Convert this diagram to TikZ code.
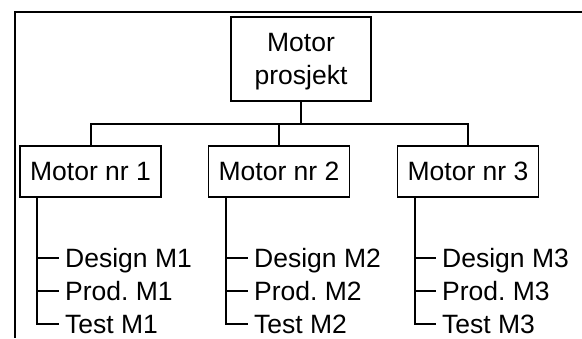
\documentclass[tikz,border=0pt]{standalone}
\usepackage{fontspec}
\setmainfont{Liberation Sans}
\frenchspacing
\begin{document}
\begin{tikzpicture}[x=1pt,y=-1pt,
  font=\fontsize{26.5}{33}\selectfont,
  box/.style={draw, line width=1.5pt, inner sep=0pt},
  leaf/.style={anchor=base west, inner sep=0pt, text height=19pt, text depth=0pt},
  conn/.style={line width=2pt},
  frameline/.style={line width=2.4pt, line join=miter}]
\useasboundingbox (0,0) rectangle (582,338);

% outer frame (top and left edges)
\draw[frameline] (582,12) -- (15,12) -- (15,338);

% project box and the three motor boxes
\node[box, minimum width=140pt, minimum height=84pt, align=center, text depth=0pt]
  (top) at (301,59) {Motor\\prosjekt};
\node[box, minimum width=141pt, minimum height=51pt] (m1) at (90.5,171.5) {Motor nr 1};
\node[box, minimum width=141pt, minimum height=51pt] (m2) at (279,171.5) {Motor nr 2};
\node[box, minimum width=141pt, minimum height=51pt] (m3) at (468,171.5) {Motor nr 3};

% bus connecting the project to the motors
\coordinate (bus) at (301,124);
\draw[conn] (top.south) -- (bus);
\draw[conn] (m1.north) |- (bus) -| (m3.north);
\draw[conn] (m2.north |- bus) -- (m2.north);

% task lists
\node[leaf] (d1) at (65,267) {Design M1};
\node[leaf] (p1) at (65,300) {Prod. M1};
\node[leaf] (t1) at (65,333) {Test M1};
\node[leaf] (d2) at (254,267) {Design M2};
\node[leaf] (p2) at (254,300) {Prod. M2};
\node[leaf] (t2) at (254,333) {Test M2};
\node[leaf] (d3) at (442,267) {Design M3};
\node[leaf] (p3) at (442,300) {Prod. M3};
\node[leaf] (t3) at (442,333) {Test M3};

% branches from each motor to its tasks
\foreach \i in {1,2,3} {
  \coordinate (b\i) at ([xshift=-53.5pt]m\i.south);
  \draw[conn] (b\i) |- ([xshift=-6pt]t\i.west);
  \draw[conn] (d\i.west -| b\i) -- ([xshift=-6pt]d\i.west);
  \draw[conn] (p\i.west -| b\i) -- ([xshift=-6pt]p\i.west);
}
\end{tikzpicture}
\end{document}
